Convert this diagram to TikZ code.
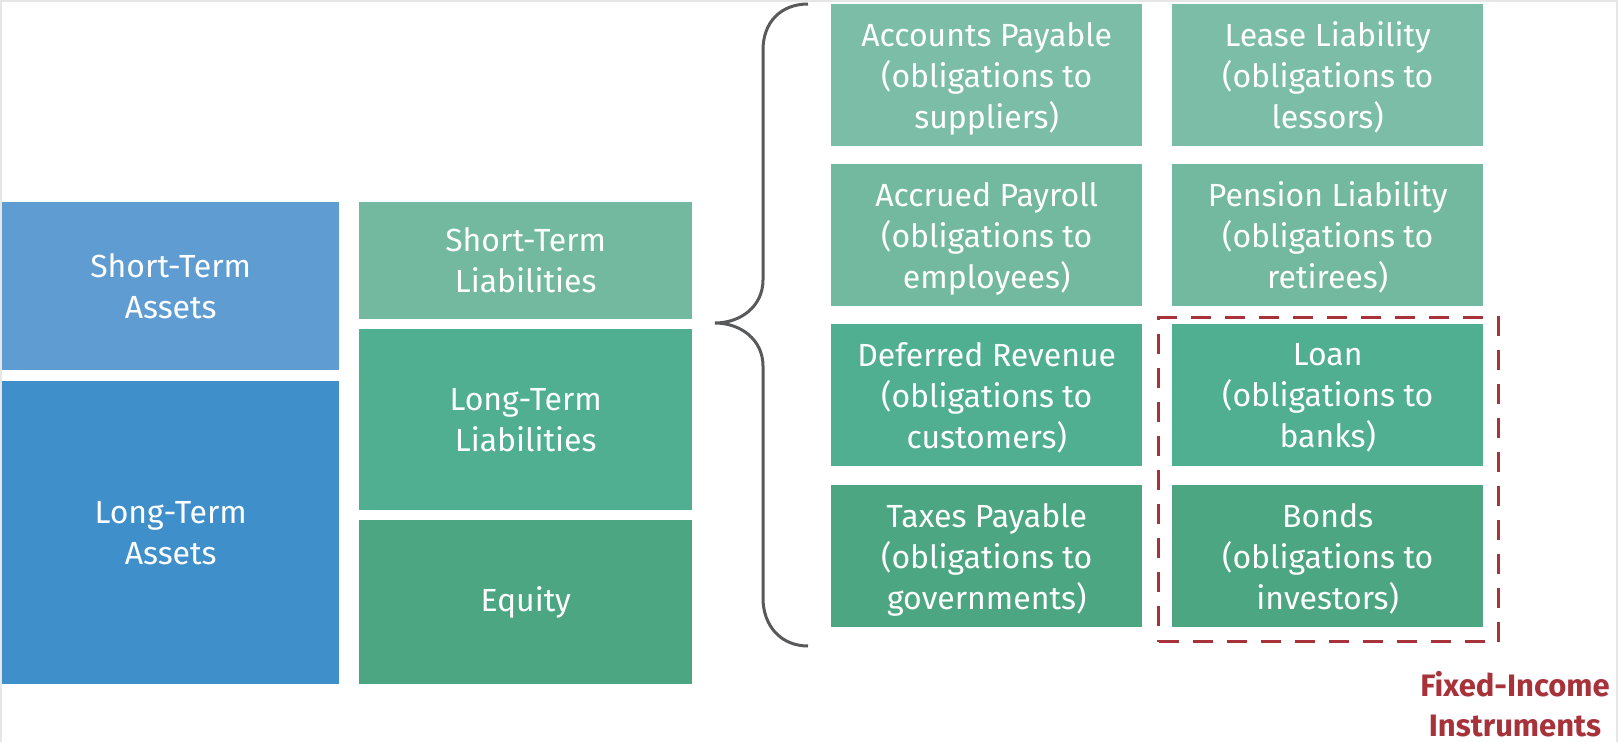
\documentclass[tikz,border=0pt]{standalone}
\usepackage{fontspec}
\setmainfont{Fira Sans}
\definecolor{stblue}{HTML}{5E9CD1}
\definecolor{ltblue}{HTML}{3F8FCB}
\definecolor{greenA}{HTML}{7BBDA6}
\definecolor{greenB}{HTML}{72B9A0}
\definecolor{greenC}{HTML}{50AE91}
\definecolor{greenD}{HTML}{4CA682}
\definecolor{firered}{HTML}{A8323A}
\definecolor{bracegray}{HTML}{58595B}
\definecolor{framegray}{HTML}{E6E6E6}
\begin{document}
\begin{tikzpicture}[x=1pt, y=-1pt,
    blk/.style={anchor=north west, inner sep=0pt, text=white, align=center,
        font=\fontsize{32}{41}\selectfont},
    item/.style={blk, minimum width=311pt, minimum height=142pt, text depth=0pt}]
\fill[white] (0,0) rectangle (1618,742);
\useasboundingbox (0,0) rectangle (1618,742);
\draw[framegray, line width=2.5pt] (1.2,742)--(1.2,1.2)--(1616.8,1.2)--(1616.8,742);

% assets
\node[blk, fill=stblue, minimum width=337pt, minimum height=168pt] (stasset) at (2,202) {Short-Term\\Assets};
\node[blk, fill=ltblue, minimum width=337pt, minimum height=303pt] (ltasset) at (2,381) {Long-Term\\Assets};

% liabilities and equity
\node[blk, fill=greenB, minimum width=333pt, minimum height=117pt] (stliab) at (359,202) {Short-Term\\Liabilities};
\node[blk, fill=greenC, minimum width=333pt, minimum height=181pt] (ltliab) at (359,329) {Long-Term\\Liabilities};
\node[blk, fill=greenD, minimum width=333pt, minimum height=164pt] (equity) at (359,520) {Equity};

% brace
\draw[bracegray, line width=3pt] (808,4) .. controls (781,4) and (763,22) .. (763,50) -- (763,280)
    .. controls (763,306) and (741,323) .. (715,323)
    .. controls (741,323) and (763,340) .. (763,366) -- (763,598)
    .. controls (763,626) and (781,646) .. (808,646);

% kinds of liabilities
\node[item, fill=greenA] (payable) at (831,4) {Accounts Payable\\(obligations to\\suppliers)};
\node[item, fill=greenA] (lease) at (1172,4) {Lease Liability\\(obligations to\\lessors)};
\node[item, fill=greenB] (payroll) at (831,164) {Accrued Payroll\\(obligations to\\employees)};
\node[item, fill=greenB] (pension) at (1172,164) {Pension Liability\\(obligations to\\retirees)};
\node[item, fill=greenC] (deferred) at (831,324) {Deferred Revenue\\(obligations to\\customers)};
\node[item, fill=greenC] (loan) at (1172,324) {Loan\\(obligations to\\banks)};
\node[item, fill=greenD] (taxes) at (831,485) {Taxes Payable\\(obligations to\\governments)};
\node[item, fill=greenD] (bonds) at (1172,485) {Bonds\\(obligations to\\investors)};

% fixed income
\node[anchor=north west, inner sep=0pt, draw=firered, line width=3pt, dash pattern=on 20pt off 14pt,
    minimum width=340pt, minimum height=324pt] (fixedbox) at (1157,316) {};
\node[text=firered, align=center, inner sep=0pt, font=\bfseries\fontsize{31}{40}\selectfont]
    (fixedlabel) at (1515,704) {Fixed-Income\\Instruments};

\end{tikzpicture}
\end{document}
